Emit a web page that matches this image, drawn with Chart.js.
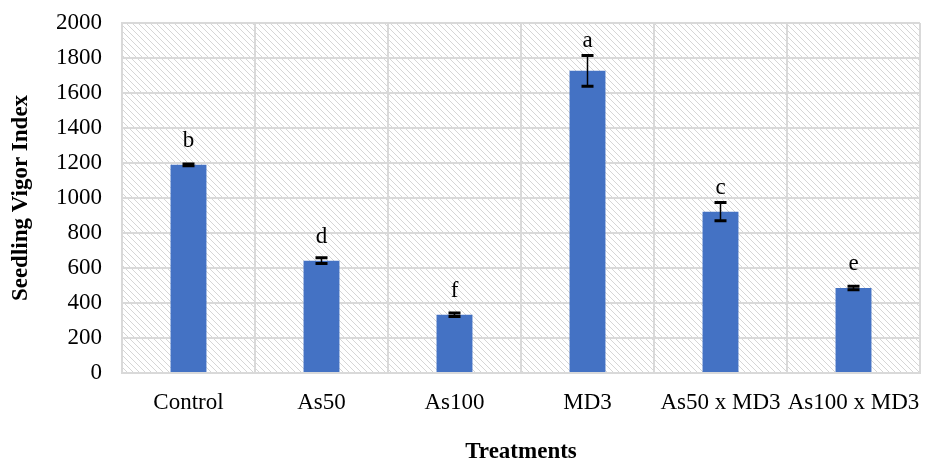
<!DOCTYPE html>
<html>
<head>
<meta charset="utf-8">
<script src="https://cdn.jsdelivr.net/npm/chart.js@4.4.1/dist/chart.umd.min.js"></script>
<style>
  html, body { margin: 0; padding: 0; background: #ffffff; }
  #wrap { width: 925px; height: 461px; }
</style>
</head>
<body>
<div id="wrap"><canvas id="c" width="925" height="461"></canvas></div>
<script>
// Seedling vigor index per treatment, with standard error and significance letters
const categories = ['Control', 'As50', 'As100', 'MD3', 'As50 x MD3', 'As100 x MD3'];
const vigorIndex = [1190, 642, 333, 1727, 922, 486];
const stdError   = [5, 16, 10, 88, 52, 10];
const groupLetters = ['b', 'd', 'f', 'a', 'c', 'e'];
const yTicks = [0, 200, 400, 600, 800, 1000, 1200, 1400, 1600, 1800, 2000];

const SERIF = '"Liberation Serif", "Times New Roman", serif';
const GRID = '#d9d9d9';

// White page with a light diagonal hatch inside the plot area
const hatchBackground = {
  id: 'hatchBackground',
  beforeDraw(chart) {
    const { ctx, chartArea: a } = chart;
    ctx.save();
    ctx.fillStyle = '#ffffff';
    ctx.fillRect(0, 0, chart.width, chart.height);
    ctx.beginPath();
    ctx.rect(a.left, a.top, a.right - a.left, a.bottom - a.top);
    ctx.clip();
    ctx.strokeStyle = '#d6d6d6';
    ctx.lineWidth = 1;
    const h = a.bottom - a.top;
    ctx.beginPath();
    for (let k = -h; k < a.right - a.left; k += 6) {
      ctx.moveTo(a.left + k, a.top);
      ctx.lineTo(a.left + k + h, a.bottom);
    }
    ctx.stroke();
    ctx.restore();
  }
};

// Error bars and letter labels above each bar
const errorsAndLetters = {
  id: 'errorsAndLetters',
  afterDatasetsDraw(chart) {
    const { ctx } = chart;
    const y = chart.scales.y;
    const meta = chart.getDatasetMeta(0);
    ctx.save();
    meta.data.forEach((bar, i) => {
      const v = vigorIndex[i], e = stdError[i];
      const yHi = y.getPixelForValue(v + e);
      const yLo = y.getPixelForValue(v - e);
      const x = bar.x;
      ctx.strokeStyle = '#000000';
      ctx.lineWidth = 1.5;
      ctx.beginPath();
      ctx.moveTo(x, yHi);
      ctx.lineTo(x, yLo);
      ctx.stroke();
      ctx.lineWidth = 3;
      ctx.beginPath();
      ctx.moveTo(x - 6, yHi); ctx.lineTo(x + 6, yHi);
      ctx.moveTo(x - 6, yLo); ctx.lineTo(x + 6, yLo);
      ctx.stroke();

      const barTop = y.getPixelForValue(v);
      const base = Math.min(barTop - 17.5, yHi - 8);
      ctx.fillStyle = '#000000';
      ctx.font = '23px ' + SERIF;
      ctx.textAlign = 'center';
      ctx.textBaseline = 'alphabetic';
      ctx.fillText(groupLetters[i], x, base);
    });
    ctx.restore();
  }
};

new Chart(document.getElementById('c'), {
  type: 'bar',
  data: {
    labels: categories,
    datasets: [{
      data: vigorIndex,
      backgroundColor: '#4472C4',
      borderWidth: 0,
      categoryPercentage: 1,
      barPercentage: 0.27
    }]
  },
  options: {
    responsive: false,
    animation: false,
    devicePixelRatio: 1,
    layout: { padding: { left: 0, right: 5, top: 23, bottom: 0 } },
    plugins: {
      legend: { display: false },
      tooltip: { enabled: false }
    },
    scales: {
      x: {
        grid: { color: GRID, lineWidth: 2, drawTicks: false, offset: true },
        border: { color: GRID, width: 2 },
        ticks: {
          color: '#000000',
          font: { family: SERIF, size: 23 },
          padding: 16,
          maxRotation: 0,
          autoSkip: false
        },
        title: {
          display: true,
          text: 'Treatments',
          color: '#000000',
          font: { family: SERIF, size: 23, weight: 'bold', lineHeight: 1 },
          padding: { top: 0, bottom: -3 }
        },
        afterFit(scale) {
          scale.height = 88;
          scale.paddingLeft = 0;
          scale.paddingRight = 0;
        }
      },
      y: {
        min: 0,
        max: 2000,
        afterBuildTicks(scale) { scale.ticks = yTicks.map(v => ({ value: v })); },
        grid: { color: GRID, lineWidth: 2, drawTicks: false },
        border: { color: GRID, width: 2 },
        ticks: {
          color: '#000000',
          font: { family: SERIF, size: 23 },
          padding: 20,
          callback: (v) => String(v)
        },
        title: {
          display: true,
          text: 'Seedling Vigor Index',
          color: '#000000',
          font: { family: SERIF, size: 23, weight: 'bold', lineHeight: 1 },
          padding: { top: 10, bottom: 0 }
        },
        afterFit(scale) {
          scale.width = 122;
          scale.paddingTop = 0;
          scale.paddingBottom = 0;
        }
      }
    }
  },
  plugins: [hatchBackground, errorsAndLetters]
});
</script>
</body>
</html>
